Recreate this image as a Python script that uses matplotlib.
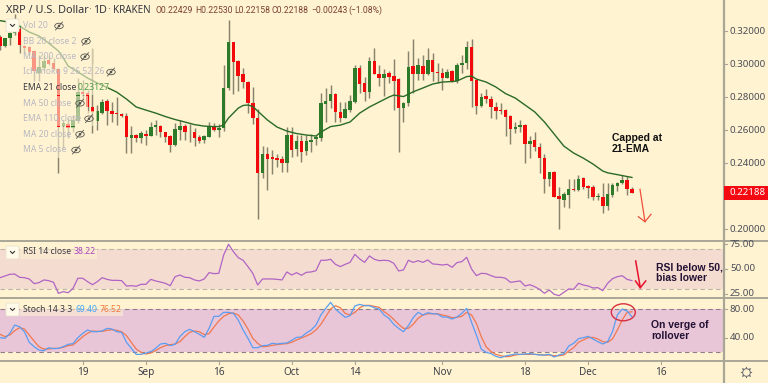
import numpy as np
import matplotlib
matplotlib.use("Agg")
import matplotlib.pyplot as plt
from matplotlib.patches import Rectangle, Ellipse, FancyBboxPatch

# ---- data (prices in 0.001 USD) ----
open_m = [316.4,310.9,315.8,318.8,321.2,311.0,310.5,307.9,294.7,297.6,
 302.4,300.6,297.0,262.6,263.7,261.2,265.5,283.2,282.4,274.0,
 265.5,270.3,277.6,271.7,270.0,270.0,268.5,255.4,257.0,255.4,
 257.6,256.6,261.8,262.6,258.8,256.6,250.9,260.2,262.4,258.6,
 258.8,255.8,254.0,256.0,262.0,260.0,261.2,285.5,313.3,301.8,
 294.0,289.3,276.6,267.3,234.0,245.5,243.7,243.2,242.4,240.2,
 257.0,248.7,253.5,247.3,252.9,254.4,255.4,275.8,277.6,281.8,
 271.1,267.5,272.1,277.0,297.8,288.5,282.9,301.7,294.1,291.5,
 294.4,292.6,290.9,273.2,276.4,298.8,294.1,299.0,294.1,302.3,
 295.3,294.4,291.7,295.8,289.7,299.2,300.8,310.1,290.3,274.6,
 280.4,279.0,274.0,272.1,272.0,268.5,260.6,261.8,263.2,251.4,
 253.8,249.7,243.2,230.3,234.8,220.0,217.8,220.8,224.4,223.5,
 230.9,226.1,225.7,219.2,219.6,214.0,220.8,226.3,227.7,229.5,224.29]
close_m = [310.9,315.8,318.8,323.6,311.5,310.0,307.5,296.0,298.2,301.8,
 300.0,297.0,261.8,264.3,261.2,266.1,283.0,282.1,274.0,270.9,
 271.5,277.2,271.5,269.7,269.7,268.7,256.0,257.0,255.4,258.2,
 256.4,261.8,263.0,258.8,256.0,250.9,260.6,262.4,258.8,259.0,
 255.4,253.4,256.4,262.0,260.0,261.2,285.5,313.3,301.4,292.9,
 289.3,276.6,267.6,234.0,245.5,242.6,242.6,242.0,240.2,257.0,
 247.9,253.5,246.7,253.2,254.0,255.6,276.6,277.8,281.8,270.8,
 267.3,272.7,277.4,297.8,287.9,283.2,301.8,294.1,291.5,294.1,
 292.1,289.9,273.2,276.6,298.4,294.1,299.2,294.1,302.3,295.3,
 294.4,291.5,295.0,289.7,299.4,300.8,310.1,289.7,274.6,279.8,
 278.6,274.0,271.7,271.7,268.1,260.6,262.0,263.0,251.4,253.5,
 249.5,243.0,230.3,234.8,219.6,218.4,221.4,224.4,223.7,230.3,
 225.7,225.1,219.2,220.0,214.0,221.2,226.5,228.1,229.7,224.1,221.88]
high_m = [317.6,316.0,319.4,330.3,322.4,311.5,310.9,308.5,305.5,305.5,
 305.5,303.7,297.6,266.1,267.3,269.1,291.5,290.3,284.3,309.7,
 275.2,278.8,278.8,277.0,280.0,270.5,270.3,262.4,257.6,259.4,
 260.0,265.0,266.1,263.0,259.0,257.0,264.3,266.1,263.7,263.7,
 261.2,257.0,257.0,265.0,264.4,263.7,299.4,326.7,313.5,302.4,
 297.6,289.7,286.3,272.7,250.3,249.9,247.9,245.5,244.3,262.0,
 262.0,257.0,257.0,257.0,257.6,257.0,282.4,285.5,287.3,282.6,
 277.2,277.2,281.2,299.4,299.4,292.3,304.4,309.9,299.4,297.0,
 296.0,303.0,291.5,277.2,308.1,315.2,303.5,305.5,309.7,306.7,
 300.6,297.6,297.0,296.4,300.4,305.5,314.1,315.0,290.7,282.3,
 284.9,280.6,277.2,276.6,272.6,269.1,265.0,266.1,263.7,256.4,
 258.6,252.3,245.5,234.8,235.2,225.3,222.6,230.1,230.3,232.7,
 231.7,226.7,226.7,222.0,227.7,227.7,228.1,228.7,232.7,232.1,225.30]
low_m = [308.5,310.5,311.5,317.6,306.7,306.7,305.5,289.7,289.7,296.4,
 299.4,296.4,234.0,249.1,255.2,258.8,264.3,278.2,270.3,258.2,
 260.0,269.7,263.0,264.9,263.0,267.9,246.1,246.1,252.9,252.1,
 250.9,256.4,257.0,255.8,252.9,246.9,250.5,254.0,254.0,252.9,
 250.5,252.1,252.1,255.8,259.6,256.0,259.4,284.3,281.8,283.7,
 285.7,270.3,263.7,206.1,230.9,223.7,233.4,237.6,234.8,234.8,
 243.8,244.3,240.8,244.9,246.7,250.9,253.5,265.0,273.3,265.0,
 265.0,267.1,271.1,276.6,282.6,277.6,279.6,293.8,286.7,280.6,
 288.5,272.1,246.9,265.0,274.6,282.4,290.3,290.3,293.3,289.7,
 288.5,284.3,291.3,289.3,288.7,294.7,296.8,274.1,269.7,274.1,
 276.6,267.1,266.5,269.5,256.4,251.5,258.4,258.6,239.8,242.9,
 247.5,234.1,222.0,226.1,219.2,200.2,213.2,212.6,223.2,223.2,
 224.1,218.6,217.6,217.6,209.5,211.5,219.2,223.2,227.3,220.6,221.58]

ema_day = [0,1,4,6,8,10,12,13,14,16,18,20,22,24,26,28,30,32,34,36,38,40,42,44,45,46,47,48,49,50,51,52,53,55,57,59,61,63,65,66,68,70,72,74,76,78,80,81,83,85,87,89,91,93,94,96,97,98,100,102,104,106,108,110,112,114,116,118,120,122,124,125,127,130]
ema_m = [326.3,325.8,323.0,319.4,317.0,312.7,307.9,303.7,298.8,295.2,291.5,288.5,285.8,283.0,278.8,274.0,272.1,270.3,268.2,266.4,264.9,263.3,262.4,262.1,262.1,263.0,267.3,270.3,273.3,274.9,275.2,274.3,271.5,266.1,261.8,259.4,257.9,257.0,256.4,258.8,262.1,263.0,264.9,270.3,274.0,277.0,280.0,281.2,280.3,283.2,285.5,287.9,289.1,289.4,289.7,292.4,292.7,290.9,289.1,286.1,282.1,279.4,275.2,271.0,264.9,257.6,250.3,246.1,243.0,239.4,235.2,234.1,233.0,231.3]

rsi = [41.2,42.9,44.6,44.9,41.6,41.2,39.9,35.2,36.2,38.9,
 38.2,36.5,25.4,27.1,26.0,30.4,40.6,40.6,37.2,34.1,
 37.2,41.2,39.5,38.5,38.5,38.2,32.8,33.1,32.5,34.5,
 34.5,39.5,37.9,36.8,35.5,33.1,42.2,43.9,41.6,41.2,
 38.9,37.9,39.9,46.3,45.3,45.6,64.2,75.0,67.5,61.5,
 58.8,52.4,45.6,33.8,39.9,39.9,39.9,39.5,38.9,47.0,
 43.9,46.3,43.6,46.6,47.0,48.3,58.8,58.8,59.8,54.7,
 52.4,54.7,56.7,64.8,60.1,56.7,63.2,59.8,58.4,58.8,
 58.4,55.7,48.0,49.0,58.8,56.7,58.4,56.7,59.1,55.1,
 54.7,54.0,54.7,51.7,56.4,57.4,61.8,50.0,43.3,45.6,
 45.3,43.3,41.6,41.6,40.6,36.5,37.2,37.9,32.8,34.1,
 32.1,29.4,25.4,28.7,24.4,23.0,26.4,29.8,29.4,35.5,
 33.8,32.8,30.8,31.1,28.1,35.5,40.2,42.2,43.2,39.5,38.22]
stoch_k = [40.0,39.0,46.1,57.8,55.5,48.4,33.4,27.2,22.5,21.6,
 25.8,24.4,24.9,27.2,30.5,31.5,40.0,46.1,50.8,48.4,
 48.4,49.4,53.1,52.2,48.4,47.5,33.4,24.9,16.4,16.4,
 18.3,20.2,24.9,31.0,32.0,28.7,30.5,41.4,48.4,51.7,
 48.4,44.7,40.4,53.1,70.1,70.1,75.7,75.7,74.3,64.9,
 50.8,39.0,25.8,25.8,28.7,29.1,32.0,31.0,32.0,32.4,
 36.2,40.4,40.9,46.5,50.8,57.8,72.0,81.4,89.8,80.4,
 74.3,68.7,71.0,84.7,87.0,85.1,85.1,82.3,80.4,72.0,
 67.3,58.8,53.1,48.4,56.9,68.2,75.7,72.0,75.2,73.8,
 73.4,69.1,69.1,66.3,69.1,74.3,81.4,61.6,43.7,23.9,
 19.2,17.4,13.6,11.7,14.1,15.5,16.9,16.4,16.9,17.4,
 16.4,15.5,15.5,16.4,12.7,15.5,17.4,28.2,32.0,38.5,
 40.0,41.8,38.1,34.3,31.0,34.3,48.4,72.0,80.4,77.6,69.40]
stoch_d = [44.7,41.4,43.7,49.8,54.1,52.2,43.7,35.2,27.2,23.9,
 23.9,24.9,24.9,26.3,28.7,29.6,35.2,41.4,46.1,49.4,
 48.9,48.9,50.3,51.2,50.3,48.4,42.8,33.4,23.9,19.2,
 16.9,18.3,21.6,25.8,28.7,30.1,31.0,34.3,41.4,47.5,
 49.4,48.4,44.2,45.6,55.0,63.5,70.1,73.8,74.8,72.0,
 63.5,52.2,39.0,32.0,27.2,27.7,29.1,30.1,31.0,31.5,
 33.4,36.7,39.5,42.3,45.6,50.8,58.8,69.6,80.4,85.1,
 82.3,74.3,72.0,75.7,82.3,85.6,85.6,84.2,82.8,76.7,
 72.0,65.8,58.8,53.1,53.1,58.8,67.3,72.0,73.8,73.8,
 73.8,72.0,70.5,68.2,68.7,70.1,75.7,72.0,60.2,41.4,
 27.2,20.2,16.4,14.5,13.1,13.6,15.5,16.4,16.4,16.4,
 16.4,16.0,15.5,15.5,14.5,14.5,15.5,21.1,25.8,33.4,
 36.7,40.0,40.4,38.1,34.3,33.4,38.1,50.8,64.9,75.7,76.52]

date_ticks = [17,30,45,60,73,91,108,121,136]
date_labels = ["19","Sep","16","Oct","14","Nov","18","Dec","16"]
price_ticks = [0.20,0.24,0.26,0.28,0.30,0.32]
rsi_ticks = [25,50,75]
stoch_ticks = [40,80]
last_price = 0.22188

# ---- style ----
W, H = 768, 383
BG = "#fff3d1"
SEP = "#a9a696"
GREEN = "#2e7a2b"
RED = "#f2090b"
WICK = "#87836c"
EMA = "#2a6a26"
FONT = "Noto Sans"
plt.rcParams["font.family"] = [FONT, "DejaVu Sans"]

fig = plt.figure(figsize=(W/100, H/100), dpi=100, facecolor=BG)

def pane(y0, y1, ylim):
    ax = fig.add_axes([0, 1-y1/H, 723/W, (y1-y0)/H], facecolor=BG)
    ax.set_xlim(-0.02, 148.74)
    ax.set_ylim(*ylim)
    for s in ax.spines.values():
        s.set_visible(False)
    ax.set_xticks([]); ax.set_yticks([])
    return ax

ax = pane(0, 241, (0.1928, 0.3388))
rx = pane(241, 298, (20.65, 78.3))
sx = pane(298, 361, (7.0, 96.0))

o = np.array(open_m)*1e-3; c = np.array(close_m)*1e-3
h = np.array(high_m)*1e-3; l = np.array(low_m)*1e-3
days = np.arange(len(o))
up = c >= o
ax.vlines(days, l, h, color=WICK, lw=1.05, zorder=2)
bot = np.minimum(o, c); hgt = np.maximum(np.abs(c-o), 0.0004)
ax.bar(days[up], hgt[up], bottom=bot[up], width=0.72, color=GREEN, lw=0, zorder=3)
ax.bar(days[~up], hgt[~up], bottom=bot[~up], width=0.72, color=RED, lw=0, zorder=3)
ax.plot(ema_day, np.array(ema_m)*1e-3, color=EMA, lw=1.0, zorder=4)

rx.axhspan(30, 70, color="#f5dcd1", lw=0, zorder=1)
for v in (30, 70):
    rx.axhline(v, color="#bdb4a8", lw=0.8, ls=(0, (4, 3)), zorder=2)
rx.plot(days, rsi, color="#b064c4", lw=0.9, zorder=3)

sx.axhspan(20, 80, color="#e9c5d8", lw=0, zorder=1)
for v in (20, 80):
    sx.axhline(v, color="#8c7f88", lw=0.8, ls=(0, (4, 3)), zorder=2)
sx.plot(days, stoch_d, color="#f0784f", lw=0.9, zorder=3)
sx.plot(days, stoch_k, color="#5b9df0", lw=0.9, zorder=4)

# overlay in pixel space for chrome and annotations
ov = fig.add_axes([0, 0, 1, 1], facecolor="none")
ov.set_xlim(0, W); ov.set_ylim(H, 0); ov.axis("off")

for y in (241, 298, 361):
    ov.plot([0, W], [y, y], color=SEP, lw=1.4, solid_capstyle="butt")
ov.plot([723.5, 723.5], [0, 383], color=SEP, lw=1.6, solid_capstyle="butt")

# bottom date axis driven by the chart's x scale
to_px = lambda d: ax.transData.transform((d, 0.25))[0]
for d, lab in zip(date_ticks, date_labels):
    px = to_px(d)
    ov.plot([px, px], [361, 364], color=SEP, lw=0.8)
    ov.text(px, 372.5, lab, ha="center", va="center", fontsize=7.2, color="#3d3f48")

# right axes
def right_labels(a, ticks, fmt):
    for v in ticks:
        py = H - a.transData.transform((0, v))[1]
        ov.plot([724, 727], [py, py], color=SEP, lw=0.8)
        ov.text(730, py, fmt % v, ha="left", va="center", fontsize=7.0, color="#4b4d57")
right_labels(ax, price_ticks, "%.5f")
right_labels(rx, rsi_ticks, "%.2f")
right_labels(sx, stoch_ticks, "%.2f")

py = H - ax.transData.transform((0, last_price))[1]
ov.add_patch(Rectangle((724, py-6.8), 44, 13.6, fc="#f40a10", ec="none", zorder=5))
ov.text(730, py, "%.5f" % last_price, ha="left", va="center", fontsize=7.0,
        color="white", fontweight="bold", zorder=6)

# header
ov.text(6, 10.5, "XRP / U.S. Dollar", fontsize=7.9, color="#34353d", va="center")
ov.text(88, 10.5, "·", fontsize=7.7, color="#8a8a80", va="center")
ov.text(93, 10.5, "1D", fontsize=7.7, color="#34353d", va="center")
ov.text(107, 10.5, "·", fontsize=7.7, color="#8a8a80", va="center")
ov.text(112.5, 10.5, "KRAKEN", fontsize=7.1, color="#34353d", va="center")
for x, t in [(155, "O0.22429"), (195, "H0.22530"), (234, "L0.22158"), (272, "C0.22188"),
             (311, "−0.00243"), (348, "(−1.08%)")]:
    ov.text(x, 10.5, t, family="Roboto", fontsize=6.2, color="#7c4035", va="center")

# faded legend rows over the main pane
FADE = "#b9b8c2"
rows = [(26, "Vol 20", 59), (41.3, "BB 20 close 2", 86), (56.7, "MA 200 close", 85),
        (72, "Ichimoku 9 26 52 26", 111), (87.7, "EMA 21 close", None),
        (103.3, "MA 50 close", 80), (118.7, "EMA 110 close", 89),
        (134.3, "MA 20 close", 80), (150, "MA 5 close", 76)]
for y, t, eye in rows:
    xr = (eye + 8) if eye else 108
    ov.add_patch(Rectangle((21, y-7.7), xr-21, 15.4, fc=BG, ec="none", alpha=0.6, zorder=7))
    ov.text(23, y, t, fontsize=6.2, va="center", zorder=8,
            color=("#3a3a42" if eye is None else FADE))
    if eye:
        ov.add_patch(Ellipse((eye, y), 8.5, 5.5, fc="none", ec="#55554f", lw=0.6, zorder=8))
        ov.add_patch(Ellipse((eye, y), 2.6, 2.6, fc="#55554f", ec="none", zorder=8))
        ov.plot([eye-3.5, eye+3.5], [y+4, y-4], color="#55554f", lw=0.6, zorder=8)
ov.text(78, 87.7, "0.23127", fontsize=6.2, color="#4c9a46", va="center", zorder=8)

def button(x0, y0):
    ov.add_patch(FancyBboxPatch((x0+1, y0+1), 11, 11, boxstyle="round,pad=1",
                 fc="#fffaea", ec="#e8e2cc", lw=0.6, zorder=9))
    ov.plot([x0+4.5, x0+6.5, x0+8.5], [y0+5.5, y0+7.5, y0+5.5], color="#333333", lw=0.8, zorder=10)
button(6, 19); button(6, 246); button(6, 303)

ov.add_patch(Rectangle((20, 245), 77, 14, fc=BG, ec="none", alpha=0.55, zorder=7))
ov.text(23, 251.7, "RSI 14 close", fontsize=6.2, color="#3a3a42", va="center", zorder=8)
ov.text(74, 251.7, "38.22", fontsize=6.2, color="#ab47bc", va="center", zorder=8)
ov.add_patch(Rectangle((20, 302), 103, 14, fc=BG, ec="none", alpha=0.55, zorder=7))
ov.text(23, 309, "Stoch 14 3 3", fontsize=6.2, color="#3a3a42", va="center", zorder=8)
ov.text(75, 309, "69.40", fontsize=6.2, color="#42a5f5", va="center", zorder=8)
ov.text(100, 309, "76.52", fontsize=6.2, color="#f5793a", va="center", zorder=8)

# annotations
ANN = "Liberation Sans"
ov.text(612, 143.3, "Capped at\n21-EMA", family=ANN, fontweight="bold", fontsize=7.5, color="#111111",
        va="center", linespacing=1.12)
ov.text(655.5, 272.6, "RSI below 50,\nbias lower", family=ANN, fontweight="bold", fontsize=7.5,
        color="#221133", va="center", linespacing=1.12)
ov.text(651, 330.5, "On verge of\nrollover", family=ANN, fontweight="bold", fontsize=7.5,
        color="#221133", va="center", linespacing=1.12)

ov.plot([640, 645], [189.3, 221.7], color="#f0503c", lw=0.9)
ov.plot([638.3, 645, 651], [216.7, 221.7, 214.3], color="#f0503c", lw=0.9)
ov.plot([635.7, 640.3], [261, 287.7], color="#e8102a", lw=1.1)
ov.plot([635.5, 640.3, 645.7], [281, 287.7, 281], color="#e8102a", lw=1.1)
ov.add_patch(Ellipse((623.3, 312.3), 24, 17, fc="none", ec="#d8303f", lw=1.0))

# gear icon
ov.plot([745.7], [371.7], marker=(8, 2, 0), ms=8, color="#6a6c74", mew=0.7, ls="none")
ov.plot([745.7], [371.7], marker="o", ms=5.5, mfc=BG, mec="#6a6c74", mew=0.7, ls="none")

fig.savefig("out.png", dpi=100, facecolor=BG)
